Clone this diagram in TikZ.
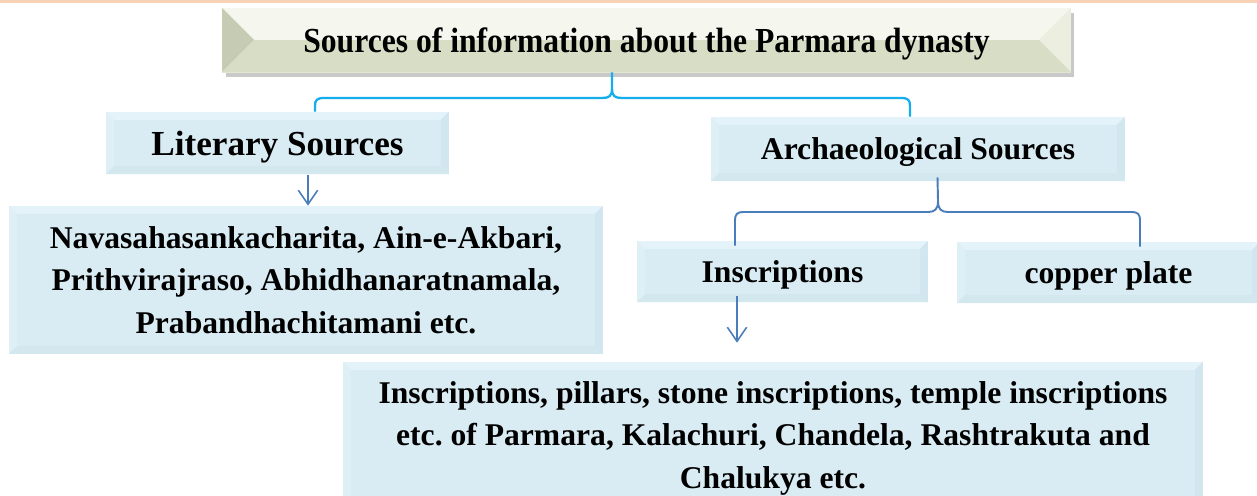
\documentclass[tikz,border=0pt]{standalone}
\usepackage{fontspec}
\setmainfont{Liberation Serif}
\newfontfamily\titlefont{Liberation Serif}[FakeStretch=0.9]
\usetikzlibrary{calc,arrows.meta,shadows}
\frenchspacing
\definecolor{boxface}{HTML}{D9ECF3}
\definecolor{boxtop}{HTML}{E4F3F9}
\definecolor{boxleft}{HTML}{DFEFF6}
\definecolor{boxright}{HTML}{D1E6EE}
\definecolor{boxbot}{HTML}{D3E7EF}
\definecolor{tfacetop}{HTML}{F1F4E8}
\definecolor{tfacebot}{HTML}{E2E8D3}
\definecolor{ttop}{HTML}{F5F7EE}
\definecolor{tleft}{HTML}{C5CCB3}
\definecolor{tright}{HTML}{ECEFE0}
\definecolor{tbot}{HTML}{D8DEC6}
\definecolor{bracecyan}{HTML}{13AEEB}
\definecolor{steel}{HTML}{4A7EBB}
\definecolor{strip}{HTML}{F8D2B6}
\newcommand\facets[5]{%
  \coordinate (pp1) at (path picture bounding box.north west);
  \coordinate (pp2) at (path picture bounding box.north east);
  \coordinate (pp3) at (path picture bounding box.south east);
  \coordinate (pp4) at (path picture bounding box.south west);
  \fill[#2] (pp1) -- (pp2) -- ($(pp2)+(-#1,#1)$) -- ($(pp1)+(#1,#1)$) -- cycle;
  \fill[#3] (pp1) -- (pp4) -- ($(pp4)+(#1,-#1)$) -- ($(pp1)+(#1,#1)$) -- cycle;
  \fill[#4] (pp2) -- (pp3) -- ($(pp3)+(-#1,-#1)$) -- ($(pp2)+(-#1,#1)$) -- cycle;
  \fill[#5] (pp4) -- (pp3) -- ($(pp3)+(-#1,-#1)$) -- ($(pp4)+(#1,-#1)$) -- cycle;
}
\tikzset{
  bluebox/.style={fill=boxface, inner sep=0pt, align=center,
    font=\fontsize{18}{24.2}\selectfont\bfseries,
    path picture={\facets{8}{boxtop}{boxleft}{boxright}{boxbot}}},
  oneline/.style={text depth=0pt},
  titlebox/.style={top color=tfacetop, bottom color=tfacebot, inner sep=0pt, text depth=0pt,
    drop shadow={shadow xshift=2pt, shadow yshift=-3pt, opacity=0.35, fill=black!60},
    font=\titlefont\fontsize{20}{24}\selectfont\bfseries,
    path picture={\facets{32}{ttop}{tleft}{tright}{tbot}}},
  bracea/.style={draw=bracecyan, line width=1.3pt},
  braceb/.style={draw=steel, line width=1.1pt},
  arr/.style={draw=steel, line width=0.9pt, -{Straight Barb[length=8pt,width=11pt]}}
}
\begin{document}
\begin{tikzpicture}[x=0.02cm,y=-0.02cm]
\clip (0,0) rectangle (1257,495);
\fill[white] (0,0) rectangle (1257,495);
\fill[strip] (0,0) rectangle (1257,3);

\node[titlebox, minimum width=16.98cm, minimum height=1.28cm] (title) at (646.5,40)
  {Sources of information about the Parmara dynasty};

\node[bluebox, oneline, minimum width=6.86cm, minimum height=1.24cm,
  font=\fontsize{20}{24}\selectfont\bfseries] (lit) at (277.5,143) {Literary Sources};
\node[bluebox, minimum width=11.88cm, minimum height=2.96cm] (litc) at (306,280)
  {Navasahasankacharita, Ain-e-Akbari,\\ Prithvirajraso, Abhidhanaratnamala,\\ Prabandhachitamani etc.};
\node[bluebox, oneline, minimum width=8.28cm, minimum height=1.28cm] (arch) at (918,149) {Archaeological Sources};
\node[bluebox, oneline, minimum width=5.82cm, minimum height=1.22cm] (ins) at (782.5,271.5) {Inscriptions};
\node[bluebox, oneline, minimum width=6.06cm, minimum height=1.22cm] (cop) at (1108.5,272.5) {copper plate};
\node[bluebox, minimum width=17.2cm, minimum height=3.04cm] (bot) at (773,438)
  {Inscriptions, pillars, stone inscriptions, temple inscriptions\\ etc. of Parmara, Kalachuri, Chandela, Rashtrakuta and\\ Chalukya etc.};

% brace from title
\coordinate (tb) at ($(title.south)+(-34.5,0)$);
\draw[bracea] (tb) -- (612,89) .. controls (612,96) and (609,98) .. (602,98)
  -- (324,98) .. controls (317,98) and (315,100) .. (315,106) -- (lit.north -| 315,0);
\draw[bracea] (612,89) .. controls (612,96) and (615,98) .. (622,98)
  -- (901,98) .. controls (908,98) and (910,100) .. (910,106) -- (arch.north -| 910,0);

% brace from archaeological
\coordinate (ab) at ($(arch.south)+(19.5,-4)$);
\draw[braceb] (ab) -- (938,201) .. controls (938,209) and (935,212) .. (928,212)
  -- (744,212) .. controls (737,212) and (735,214) .. (735,221) -- ($(ins.north)+(-47.5,5)$);
\draw[braceb] (938,201) .. controls (938,209) and (941,212) .. (948,212)
  -- (1131,212) .. controls (1138,212) and (1140,214) .. (1140,221) -- ($(cop.north)+(31.5,5)$);

% arrows
\draw[arr] ($(lit.south -| litc.north)+(2,1)$) -- ($(litc.north)+(2,0)$);
\draw[arr] ($(ins.south)+(-45.5,-6)$) -- ($(bot.north)+(-36,-19)$);
\end{tikzpicture}
\end{document}
